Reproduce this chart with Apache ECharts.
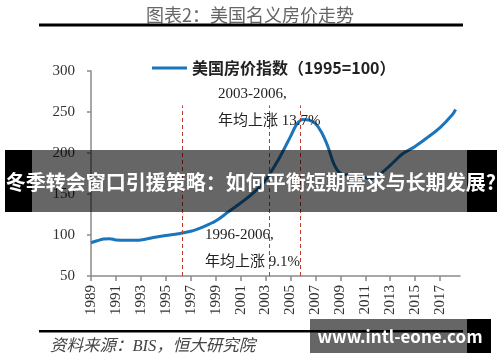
<!DOCTYPE html>
<html><head><meta charset="utf-8">
<script src="https://cdn.jsdelivr.net/npm/echarts@6/dist/echarts.min.js"></script>
<style>html,body{margin:0;padding:0;background:#fff}#c{width:500px;height:362px}</style>
</head><body><div id="c"></div>
<script>
// ---- data ----
const years  = [1989, 1989.5, 1990, 1990.5, 1991, 1992, 1993, 1994, 1995, 1996, 1997, 1998, 1999, 2000, 2001, 2002, 2003, 2004, 2005, 2005.5, 2006, 2006.5, 2007, 2007.5, 2008, 2008.5, 2009, 2009.5, 2010, 2011, 2011.5, 2012, 2013, 2014, 2015, 2016, 2017, 2018, 2018.25];
const values = [90.5, 93, 95, 95.5, 94, 93.5, 94, 97, 99.5, 101.5, 104.5, 110, 117, 128, 139, 151, 167, 191, 220, 235, 241, 240, 236, 225, 208, 186, 175, 173.5, 174, 170, 169, 172, 185, 199, 208, 219, 231, 247, 253];
const xTickYears = [1989, 1991, 1993, 1995, 1997, 1999, 2001, 2003, 2005, 2007, 2009, 2011, 2013, 2015, 2017];
const yTicks = [50, 100, 150, 200, 250, 300];
const markYears = [1996.3, 2003.3, 2005.8];
const markTop = 258;
const seriesName = '美国房价指数（1995=100）';
const titleText = '图表2：美国名义房价走势';
const noteA = ['2003-2006,', '年均上涨 13.7%'];
const noteB = ['1996-2006,', '年均上涨 9.1%'];
const sourceText = '资料来源：BIS，恒大研究院';
const bannerText = '冬季转会窗口引援策略：如何平衡短期需求与长期发展?';
const watermarkText = 'www.intl-eone.com';

const serif = "'Liberation Serif', 'Noto Sans CJK SC', serif";
const cjk = "'Noto Sans CJK SC', sans-serif";
const chart = echarts.init(document.getElementById('c'), null, {renderer: 'canvas'});

const seriesData = years.map((y, i) => [y, values[i]]);
const markData = markYears.map(x => [{coord: [x, yTicks[0]]}, {coord: [x, markTop]}]);

function txt(x, y, text, style, z, align) {
  return {type: 'text', x, y, z: z || 10, style: Object.assign({text, textAlign: align || 'left', textVerticalAlign: 'middle'}, style)};
}
function rect(x, y, w, h, fill, z) {
  return {type: 'rect', z: z || 10, shape: {x, y, width: w, height: h}, style: {fill}};
}

const noteStyle = {fill: '#222', font: "15px " + serif};

chart.setOption({
  animation: false,
  backgroundColor: '#fff',
  grid: {left: 91, right: 40, top: 71, bottom: 86, containLabel: false},
  legend: {
    data: [seriesName], left: 147, top: 55, icon: 'rect', itemWidth: 35, itemHeight: 3, itemGap: 5,
    textStyle: {fontSize: 16, fontWeight: 'bold', color: '#222', fontFamily: cjk, padding: [0, 0, 0, 0]}
  },
  xAxis: {
    type: 'value', min: 1989, max: 2018.6,
    axisLine: {onZero: false, lineStyle: {color: '#8a8a8a', width: 1.5}},
    axisTick: {show: true, customValues: xTickYears, length: 5, lineStyle: {color: '#8a8a8a', width: 1.5}},
    axisLabel: {customValues: xTickYears, formatter: v => String(v), rotate: 90, margin: 9, fontSize: 15, color: '#333', fontFamily: serif},
    splitLine: {show: false}
  },
  yAxis: {
    type: 'value', min: 50, max: 300, interval: 50,
    axisLine: {show: true, lineStyle: {color: '#8a8a8a', width: 1.5}},
    axisTick: {show: true, length: 4, lineStyle: {color: '#8a8a8a', width: 1.5}},
    axisLabel: {margin: 16, fontSize: 15, color: '#333', fontFamily: serif},
    splitLine: {show: false}
  },
  series: [{
    name: seriesName, type: 'line', data: seriesData, smooth: 0.35, symbol: 'none',
    lineStyle: {width: 3, color: '#1b75bb'}, itemStyle: {color: '#1b75bb'},
    markLine: {
      silent: true, symbol: 'none', label: {show: false},
      lineStyle: {type: [4, 3], color: '#c0392b', width: 1},
      data: markData
    }
  }],
  graphic: [
    txt(250, 15, titleText, {fill: '#666', font: "18px " + cjk}, 10, 'center'),
    rect(39, 23.5, 424, 3, '#000'),
    txt(218, 94, noteA[0], noteStyle),
    txt(218, 121, noteA[1], noteStyle),
    txt(205, 235, noteB[0], noteStyle),
    txt(205, 262, noteB[1], noteStyle),
    rect(39, 330, 424, 2.5, '#000'),
    txt(50, 347, sourceText, {fill: '#444', font: "italic 16.5px " + serif}),
    // banner overlay
    rect(5, 150, 27, 62, '#000', 100),
    rect(32, 150, 435, 62, 'rgba(0,0,0,0.6)', 100),
    rect(467, 150, 30, 62, '#000', 100),
    txt(251, 182, bannerText, {fill: '#fff', font: "bold 20px " + cjk}, 101, 'center'),
    // watermark overlay
    rect(310, 319, 157, 34, 'rgba(0,0,0,0.6)', 100),
    rect(467, 319, 24, 34, '#000', 100),
    txt(400, 337, watermarkText, {fill: '#fff', font: "bold 17px " + cjk}, 101, 'center')
  ]
});
</script>
</body></html>
